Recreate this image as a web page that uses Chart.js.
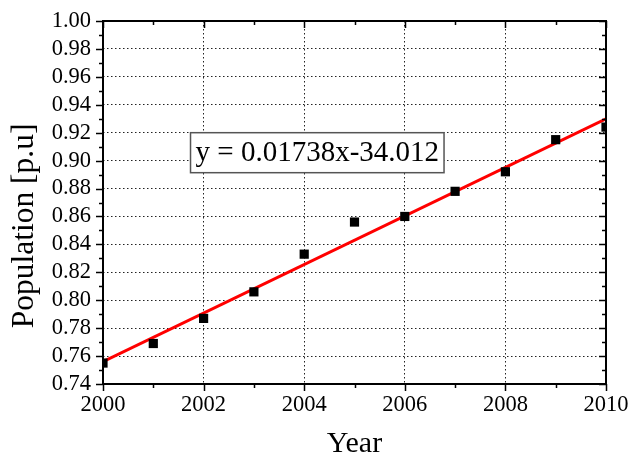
<!DOCTYPE html>
<html>
<head>
<meta charset="utf-8">
<script src="https://cdn.jsdelivr.net/npm/chart.js@4/dist/chart.umd.min.js"></script>
<style>
html,body{margin:0;padding:0;background:#fff;}
#wrap{width:629px;height:459px;position:relative;}
</style>
</head>
<body>
<div id="wrap"><canvas id="c" width="629" height="459"></canvas></div>
<script>
const years = [2000, 2001, 2002, 2003, 2004, 2005, 2006, 2007, 2008, 2009, 2010];
const population = [0.755, 0.769, 0.787, 0.806, 0.833, 0.856, 0.860, 0.878, 0.892, 0.915, 0.924];
const fitYears = [2000, 2010];
const fitValues = [0.756, 0.930];
const equationText = 'y = 0.01738x-34.012';
const xTitle = 'Year';
const yTitle = 'Population [p.u]';

const FONT = "'Liberation Serif', 'Times New Roman', serif";

const isMajorX = v => Math.round(v) % 2 === 0;
const isMajorY = v => Math.round(v * 100) % 2 === 0;

const framePlugin = {
  id: 'frame',
  afterDatasetsDraw(chart) {
    const {ctx, scales: {x, y}} = chart;
    ctx.save();
    ctx.font = '29px ' + FONT;
    const tw = ctx.measureText(equationText).width;
    const bx = x.getPixelForValue(2001.74);
    const by = y.getPixelForValue(0.92);
    const bw = tw + 10, bh = 40;
    ctx.fillStyle = '#fff';
    ctx.fillRect(bx, by, bw, bh);
    ctx.strokeStyle = '#555';
    ctx.lineWidth = 1.5;
    ctx.strokeRect(bx, by, bw, bh);
    ctx.fillStyle = '#000';
    ctx.textBaseline = 'middle';
    ctx.textAlign = 'left';
    ctx.fillText(equationText, bx + 5, by + bh / 2 + 1);
    ctx.restore();
  },
  afterDraw(chart) {
    const {ctx, chartArea: {left, right, top, bottom}, scales: {x, y}} = chart;
    ctx.save();
    ctx.strokeStyle = '#000';
    ctx.lineWidth = 2;
    ctx.strokeRect(left, top, right - left, bottom - top);
    ctx.lineWidth = 1.5;
    ctx.beginPath();
    years.forEach(v => {
      const px = Math.round(x.getPixelForValue(v)) + 0.5;
      const len = isMajorX(v) ? 7 : 4;
      ctx.moveTo(px, bottom); ctx.lineTo(px, bottom + len);
      ctx.moveTo(px, top); ctx.lineTo(px, top + len);
    });
    for (let i = 74; i <= 100; i++) {
      const v = i / 100;
      const py = Math.round(y.getPixelForValue(v)) + 0.5;
      const len = isMajorY(v) ? 7 : 4;
      ctx.moveTo(left, py); ctx.lineTo(left - len, py);
      ctx.moveTo(right, py); ctx.lineTo(right - len, py);
    }
    ctx.stroke();
    ctx.translate(25, 226);
    ctx.rotate(-Math.PI / 2);
    ctx.font = '31.5px ' + FONT;
    ctx.fillStyle = '#000';
    ctx.textAlign = 'center';
    ctx.textBaseline = 'middle';
    ctx.fillText(yTitle, 0, 0);
    ctx.restore();
  }
};

new Chart(document.getElementById('c'), {
  type: 'scatter',
  data: {
    datasets: [
      {
        type: 'line',
        data: fitYears.map((v, i) => ({x: v, y: fitValues[i]})),
        borderColor: '#ff0000',
        borderWidth: 3,
        pointRadius: 0,
        fill: false,
        clip: 0,
        order: 1
      },
      {
        data: years.map((v, i) => ({x: v, y: population[i]})),
        pointStyle: 'rect',
        pointRadius: 6.5,
        pointBackgroundColor: '#000',
        pointBorderColor: '#000',
        pointBorderWidth: 0,
        clip: 0,
        order: 0
      }
    ]
  },
  options: {
    responsive: false,
    animation: false,
    devicePixelRatio: 1,
    layout: {padding: {top: 21, right: 23, left: 0, bottom: 0}},
    plugins: {legend: {display: false}, tooltip: {enabled: false}},
    scales: {
      x: {
        type: 'linear',
        min: 2000, max: 2010,
        afterFit: s => { s.height = 75; s.paddingLeft = 0; s.paddingRight = 0; },
        border: {display: false, dash: [1.5, 2.5]},
        grid: {
          drawTicks: false,
          lineWidth: 1,
          color: c => (c.tick && isMajorX(c.tick.value) && c.tick.value > 2000 && c.tick.value < 2010) ? '#222' : 'rgba(0,0,0,0)'
        },
        ticks: {
          stepSize: 1,
          autoSkip: false,
          maxRotation: 0,
          padding: 8,
          color: '#000',
          font: {family: FONT, size: 22.5},
          callback: v => isMajorX(v) ? String(v) : ''
        },
        title: {
          display: true,
          text: xTitle,
          color: '#000',
          font: {family: FONT, size: 30, lineHeight: 1},
          padding: {top: 0, bottom: 0}
        }
      },
      y: {
        type: 'linear',
        min: 0.74, max: 1.00,
        afterFit: s => { s.width = 103; s.paddingTop = 0; s.paddingBottom = 0; },
        border: {display: false, dash: [1.5, 2.5]},
        grid: {
          drawTicks: false,
          lineWidth: 1,
          color: c => (c.tick && isMajorY(c.tick.value) && c.tick.value > 0.745 && c.tick.value < 0.995) ? '#222' : 'rgba(0,0,0,0)'
        },
        ticks: {
          stepSize: 0.01,
          autoSkip: false,
          padding: 12,
          color: '#000',
          font: {family: FONT, size: 22.5},
          callback: v => isMajorY(v) ? v.toFixed(2) : ''
        }
      }
    }
  },
  plugins: [framePlugin]
});
</script>
</body>
</html>
